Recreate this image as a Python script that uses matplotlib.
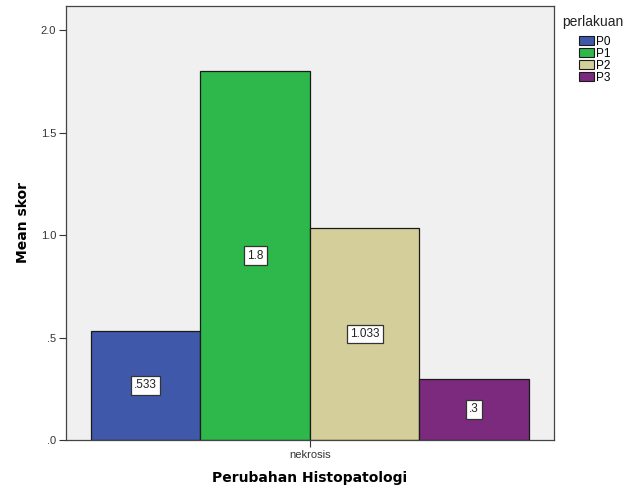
import matplotlib
matplotlib.use("Agg")
import matplotlib.pyplot as plt
from matplotlib.patches import Patch

groups = ["P0", "P1", "P2", "P3"]
means = [0.533, 1.8, 1.033, 0.3]
value_labels = [".533", "1.8", "1.033", ".3"]
category = "nekrosis"
yticks = [0.0, 0.5, 1.0, 1.5, 2.0]
ytick_labels = [".0", ".5", "1.0", "1.5", "2.0"]
colors = ["#3f58a9", "#2eb84b", "#d4cf9a", "#7b2a7d"]

W, H = 628, 487
fig = plt.figure(figsize=(W / 100, H / 100), dpi=100)
ax = fig.add_axes([0.105, 0.0965, 0.777, 0.892])
ax.set_facecolor("#f0f0f0")

width = 0.25
offsets = [(-1.5 + i) * width for i in range(len(groups))]
for off, m, c, lab in zip(offsets, means, colors, value_labels):
    ax.bar(off, m, width=width, color=c, edgecolor="#1a1a1a", linewidth=0.9, zorder=2)
    ax.text(off, m / 2, lab, ha="center", va="center", fontsize=8.5,
            family="Liberation Sans", color="#222222", zorder=3,
            bbox=dict(boxstyle="square,pad=0.28", fc="white", ec="#333333", lw=0.9))

ax.set_xlim(-0.5 - 0.057, 0.5 + 0.057)
ax.set_ylim(0, 2.12)
ax.set_xticks([0])
ax.set_xticklabels([category], fontsize=8, family="Liberation Sans", color="#333333")
ax.set_yticks(yticks)
ax.set_yticklabels(ytick_labels, fontsize=8, family="Liberation Sans", color="#333333")
ax.tick_params(axis="both", length=5, width=0.8, color="#333333", pad=2)
for s in ax.spines.values():
    s.set_color("#444444")
    s.set_linewidth(0.9)

ax.set_ylabel("Mean skor", fontsize=10, fontweight="bold", family="DejaVu Sans", labelpad=8)
ax.set_xlabel("Perubahan Histopatologi", fontsize=10, fontweight="bold", family="DejaVu Sans", labelpad=8)

# legend: title drawn separately, patches listed below it
fig.text(562 / W, 1 - 22 / H, "perlakuan", ha="left", va="center",
         fontsize=10, family="Liberation Sans", color="#222222")
handles = [Patch(facecolor=c, edgecolor="#1a1a1a", linewidth=0.8, label=g) for g, c in zip(groups, colors)]
fig.legend(handles=handles, loc="upper left",
           bbox_to_anchor=(579 / W, 1 - 36 / H), frameon=False,
           prop={"family": "Liberation Sans", "size": 8.5},
           handlelength=1.25, handleheight=0.8, handletextpad=0.15,
           labelspacing=0.0, borderaxespad=0, borderpad=0)

fig.savefig("out.png", dpi=100, facecolor="white")
